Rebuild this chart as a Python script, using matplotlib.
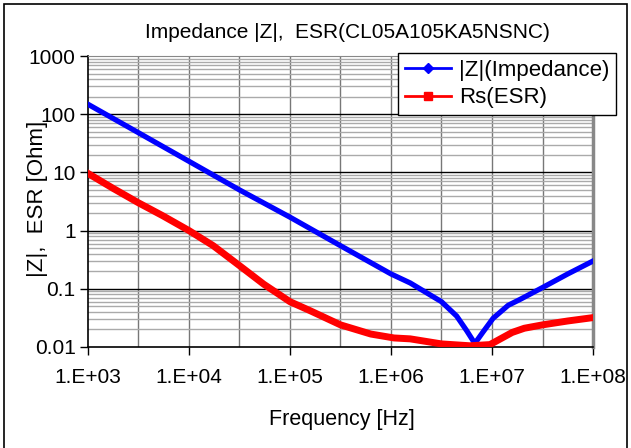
import numpy as np
import matplotlib
matplotlib.use("Agg")
import matplotlib.pyplot as plt
from matplotlib.lines import Line2D
from matplotlib.patches import Rectangle

plt.rcParams['font.family'] = ['Liberation Sans', 'DejaVu Sans']

# log10 of frequency (Hz) and values
logf_z = [3.0, 3.5, 4.0, 4.5, 5.0, 5.5, 6.0, 6.19, 6.5, 6.65, 6.75, 6.83,
          6.91, 7.01, 7.16, 7.28, 7.5, 7.75, 8.0]
z_imp = [148, 48, 15.5, 5.0, 1.7, 0.55, 0.18, 0.126, 0.06, 0.034, 0.019, 0.0115,
         0.018, 0.031, 0.052, 0.066, 0.105, 0.18, 0.30]

logf_r = [3.0, 3.25, 3.5, 3.74, 4.0, 4.24, 4.5, 4.74, 5.0, 5.2, 5.5, 5.8, 6.03,
          6.19, 6.5, 6.78, 6.98, 7.2, 7.32, 7.5, 7.75, 8.0]
r_esr = [9.6, 5.3, 3.0, 1.8, 1.0, 0.55, 0.25, 0.12, 0.06, 0.042, 0.024, 0.0167, 0.0143,
         0.0138, 0.0113, 0.0105, 0.011, 0.0178, 0.021, 0.024, 0.028, 0.032]

xticks = [1e3, 1e4, 1e5, 1e6, 1e7, 1e8]
yticks = [0.01, 0.1, 1, 10, 100, 1000]
ylabels = ['0.01', '0.1', '1', '10', '100', '1000']

W, H = 631, 448
fig = plt.figure(figsize=(W / 100, H / 100), dpi=100)
ax = fig.add_axes([88 / W, 1 - 347 / H, (593 - 88) / W, (347 - 56) / H])

ax.set_xscale('log')
ax.set_yscale('log')
ax.set_xlim(1e3, 1e8)
ax.set_ylim(0.01, 1000)

# grid: half-decade verticals, decade + minor horizontals
for e in np.arange(3.5, 8, 0.5):
    ax.axvline(10 ** e, color='#777777', lw=1.0, zorder=1)
for d in range(-2, 3):
    for m in range(2, 10):
        ax.axhline(m * 10.0 ** d, color='#aaaaaa', lw=1.0, zorder=1)
for d in range(-1, 3):
    ax.axhline(10.0 ** d, color='black', lw=1.0, zorder=1)

ax.plot(10 ** np.array(logf_z), z_imp, color='#0000ff', lw=3.8, zorder=3,
        solid_joinstyle='round')
ax.plot(10 ** np.array(logf_r), r_esr, color='#ff0000', lw=5.0, zorder=3,
        solid_joinstyle='round')

ax.set_xticks(xticks)
ax.set_xticklabels([f"1.E+{int(round(np.log10(v))):02d}" for v in xticks])
ax.set_yticks(yticks)
ax.set_yticklabels(ylabels)
ax.minorticks_off()
ax.tick_params(axis='both', direction='out', length=6, width=1, labelsize=15)
ax.tick_params(axis='x', pad=9)
ax.tick_params(axis='y', pad=3)

for s in ['left', 'bottom']:
    ax.spines[s].set_color('black')
    ax.spines[s].set_linewidth(1.2)
ax.spines['top'].set_color('#888888')
ax.spines['right'].set_color('#888888')
ax.spines['right'].set_linewidth(2.5)

fig.text(342 / W, 1 - 419 / H, 'Frequency [Hz]', fontsize=15.5, ha='center', va='center')
fig.text(38 / W, 1 - 199 / H, '|Z|,  ESR [Ohm]', fontsize=16, rotation=90,
         ha='center', va='center')
fig.text(347 / W, 1 - 33 / H, 'Impedance |Z|,  ESR(CL05A105KA5NSNC)', fontsize=15,
         ha='center', va='center')

handles = [Line2D([], [], color='#0000ff', lw=2, marker='D', markersize=5),
           Line2D([], [], color='#ff0000', lw=2, marker='s', markersize=6)]
leg = fig.legend(handles, ['|Z|(Impedance)', 'Rs(ESR)'], loc='upper left',
                 bbox_to_anchor=(398 / W, 1 - 53 / H), fontsize=16, frameon=True,
                 fancybox=False, framealpha=1, edgecolor='black', handlelength=2.1,
                 handletextpad=0.35, borderpad=0.3, labelspacing=0.3, borderaxespad=0)
leg.get_frame().set_linewidth(1.0)

fig.patches.append(Rectangle((4 / W, -0.1), 623 / W, 1.1 - 4 / H, transform=fig.transFigure,
                             fill=False, edgecolor='black', lw=1.2))

fig.savefig('out.png', dpi=100)
